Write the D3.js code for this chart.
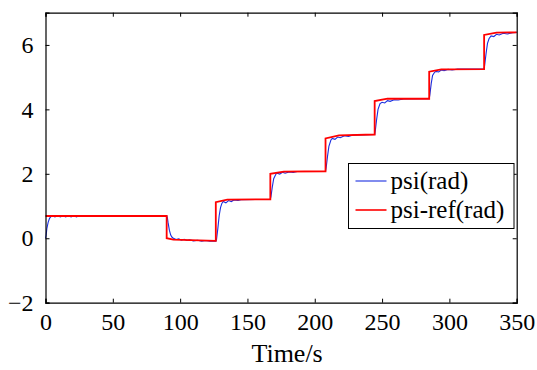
<!DOCTYPE html>
<html>
<head>
<meta charset="utf-8">
<script src="https://cdn.jsdelivr.net/npm/d3@7/dist/d3.min.js"></script>
</head>
<body style="margin:0">
<svg id="chart" style="font-family: 'Times New Roman'"></svg>
<script>
// reference heading (step command)
const refTime = [0, 90, 90, 95, 126.5, 126.5, 135, 167, 167, 177, 208, 208, 218, 244.5, 244.5, 254, 285, 285, 294, 325.8, 325.8, 335, 350];
const refValue = [0.69, 0.69, 0.0, -0.04, -0.08, 1.12, 1.2, 1.21, 2.0, 2.07, 2.08, 3.1, 3.19, 3.22, 4.26, 4.33, 4.33, 5.17, 5.24, 5.25, 6.31, 6.38, 6.39];

// measured heading
const psiTime = [
  0, 0.5, 1, 2, 3, 4, 5, 7, 9, 11, 13, 15, 17, 19, 21, 23, 25, 90,
  90.5, 91, 92, 93, 94, 95, 97, 99, 101, 103, 105, 107, 110, 113, 116, 119, 122, 126.5,
  127, 128, 129, 130, 131, 132, 134, 136, 138, 140, 143, 146, 167,
  167.5, 168.5, 169.5, 171, 172, 174, 176, 178, 181, 184, 187, 208,
  208.5, 209.5, 210.5, 212, 213, 215, 217, 219, 222, 225, 228, 244.5,
  245, 246, 247, 248.5, 250, 252, 254, 256, 259, 262, 266, 285,
  285.5, 286.5, 287.5, 289, 290, 292, 294, 296, 299, 302, 306, 325.8,
  326.3, 327.3, 328.3, 329.5, 331, 333, 335, 337, 340, 343, 347, 350
];
const psiValue = [
  0.0, 0.1, 0.3, 0.5, 0.62, 0.67, 0.7, 0.66, 0.7, 0.66, 0.7, 0.66, 0.7, 0.66, 0.7, 0.66, 0.7, 0.7,
  0.65, 0.5, 0.25, 0.1, 0.03, 0.0, -0.04, -0.02, -0.06, -0.03, -0.07, -0.05, -0.08, -0.06, -0.09, -0.07, -0.09, -0.09,
  -0.05, 0.3, 0.7, 0.95, 1.08, 1.14, 1.1, 1.17, 1.14, 1.19, 1.17, 1.2, 1.21,
  1.3, 1.6, 1.85, 1.98, 2.02, 1.99, 2.05, 2.02, 2.06, 2.04, 2.07, 2.08,
  2.2, 2.55, 2.85, 3.05, 3.1, 3.07, 3.14, 3.12, 3.18, 3.16, 3.2, 3.22,
  3.35, 3.7, 4.0, 4.18, 4.22, 4.2, 4.27, 4.25, 4.3, 4.29, 4.32, 4.33,
  4.45, 4.8, 5.05, 5.15, 5.18, 5.16, 5.22, 5.2, 5.24, 5.22, 5.25, 5.25,
  5.4, 5.75, 6.05, 6.2, 6.28, 6.26, 6.33, 6.31, 6.36, 6.34, 6.38, 6.39
];

const xTicks = [0, 50, 100, 150, 200, 250, 300, 350];
const yTicks = [-2, 0, 2, 4, 6];
const seriesNames = ["psi(rad)", "psi-ref(rad)"];
const seriesColors = ["#1a2ee0", "#ff0000"];

const serif = '"Times New Roman"';
const width = 537, height = 370;
const margin = { top: 12.7, right: 20.3, bottom: 67.3, left: 45.5 };
const w = width - margin.left - margin.right;
const h = height - margin.top - margin.bottom;

const svg = d3.select("#chart").attr("width", width).attr("height", height);
const g = svg.append("g").attr("transform", `translate(${margin.left},${margin.top})`);

const x = d3.scaleLinear().domain([0, 350]).range([0, w]);
const y = d3.scaleLinear().domain([-2, 7]).range([h, 0]);

const line = d3.line().x((d) => x(d[0])).y((d) => y(d[1]));
const psiData = psiTime.map((t, i) => [t, psiValue[i]]);
const refData = refTime.map((t, i) => [t, refValue[i]]);

g.append("path")
  .datum(psiData)
  .attr("d", line)
  .attr("fill", "none")
  .attr("stroke", seriesColors[0])
  .attr("stroke-width", 1.1);

g.append("path")
  .datum(refData)
  .attr("d", line)
  .attr("fill", "none")
  .attr("stroke", seriesColors[1])
  .attr("stroke-width", 1.8);

// axes, ticks pointing inward on all four sides (matlab box)
const axBottom = g.append("g").attr("transform", `translate(0,${h})`)
  .call(d3.axisBottom(x).tickValues(xTicks).tickSize(-4).tickPadding(10).tickFormat(d3.format("d")));
const axTop = g.append("g")
  .call(d3.axisTop(x).tickValues(xTicks).tickSize(-4).tickFormat(""));
const axLeft = g.append("g")
  .call(d3.axisLeft(y).tickValues(yTicks).tickSize(-4).tickPadding(12).tickFormat(d3.format("")));
const axRight = g.append("g").attr("transform", `translate(${w},0)`)
  .call(d3.axisRight(y).tickValues(yTicks).tickSize(-4).tickFormat(""));

[axBottom, axTop, axLeft, axRight].forEach((a) => {
  a.attr("font-family", null).attr("font-size", null);
  a.style("font-family", serif).style("font-size", "24px");
  a.select(".domain").attr("stroke", "#000").attr("stroke-width", 1.2);
  a.selectAll(".tick line").attr("stroke", "#000");
  a.selectAll("text").style("font-family", serif).style("font-size", "24px").attr("fill", "#000");
});

g.append("text")
  .attr("x", w / 2 + 6)
  .attr("y", h + 59)
  .attr("text-anchor", "middle")
  .style("font-family", serif)
  .style("font-size", "26px")
  .text("Time/s");

// legend
const lg = svg.append("g").attr("transform", "translate(348.5,163.5)");
lg.append("rect")
  .attr("width", 165.5)
  .attr("height", 65)
  .attr("fill", "#fff")
  .attr("stroke", "#000")
  .attr("stroke-width", 1);
seriesNames.forEach((name, i) => {
  const yy = 17.5 + i * 29;
  lg.append("line")
    .attr("x1", 7).attr("x2", 38)
    .attr("y1", yy).attr("y2", yy)
    .attr("stroke", seriesColors[i])
    .attr("stroke-width", i === 0 ? 1.1 : 1.6);
  lg.append("text")
    .attr("x", 42)
    .attr("y", yy + 8)
    .style("font-family", serif)
    .style("font-size", "25px")
    .text(name);
});
</script>
</body>
</html>
